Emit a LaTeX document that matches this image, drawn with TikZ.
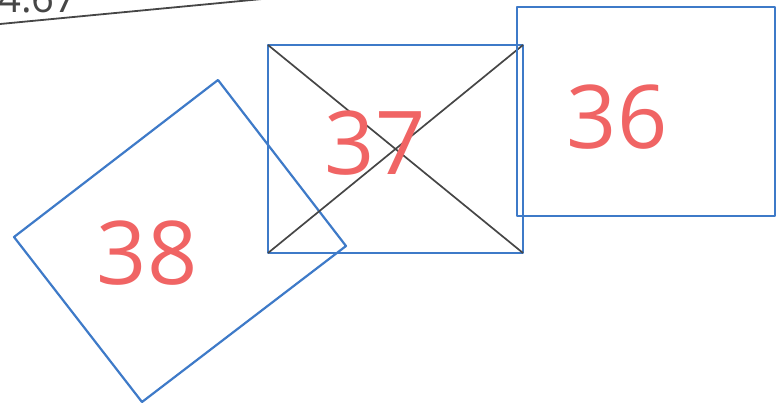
\documentclass[tikz,border=0pt]{standalone}
\usepackage{fontspec}
\setmainfont{Open Sans}
\definecolor{boxblue}{RGB}{62,122,200}
\definecolor{numred}{RGB}{240,100,100}
\definecolor{inkgrey}{RGB}{70,70,70}
\tikzset{
  outline/.style={draw=boxblue, line width=2.2pt, line join=round},
  cross/.style={draw=inkgrey, line width=1.7pt},
  num/.style={text=numred, font=\fontsize{88}{88}\selectfont, inner sep=0pt},
  pen/.style={draw=inkgrey, line width=1.8pt}
}
\begin{document}
\begin{tikzpicture}[x=1pt,y=-1pt]
\useasboundingbox (0,0) rectangle (778,405);
\begin{scope}
\clip (0,0) rectangle (778,405);
\node[anchor=base west, text=inkgrey, font=\fontsize{40}{40}\selectfont, inner sep=0pt] (note) at (-2,12) {4.67};
\coordinate (la) at (0,24);
\coordinate (lb) at (262,-1);
\draw[pen] (la) -- (lb);
\end{scope}
% box 38 (rotated)
\coordinate (a1) at (218,80);
\coordinate (a2) at (346,246);
\coordinate (a3) at (142,402);
\coordinate (a4) at (14,237);
\draw[outline] (a1) -- (a2) -- (a3) -- (a4) -- cycle;
% box 37
\coordinate (b1) at (268,45);
\coordinate (b2) at (523,45);
\coordinate (b3) at (523,253);
\coordinate (b4) at (268,253);
\draw[outline] (b1) -- (b2) -- (b3) -- (b4) -- cycle;
\draw[cross] (b1) -- (b3);
\draw[cross] (b2) -- (b4);
% box 36
\coordinate (c1) at (517,7);
\coordinate (c2) at (775,7);
\coordinate (c3) at (775,216);
\coordinate (c4) at (517,216);
\draw[outline] (c1) -- (c2) -- (c3) -- (c4) -- cycle;
% labels
\node[num] (n38) at (147,253) {38};
\node[num] (n37) at (375,143) {37};
\node[num] (n36) at (617,117) {36};
\end{tikzpicture}
\end{document}
